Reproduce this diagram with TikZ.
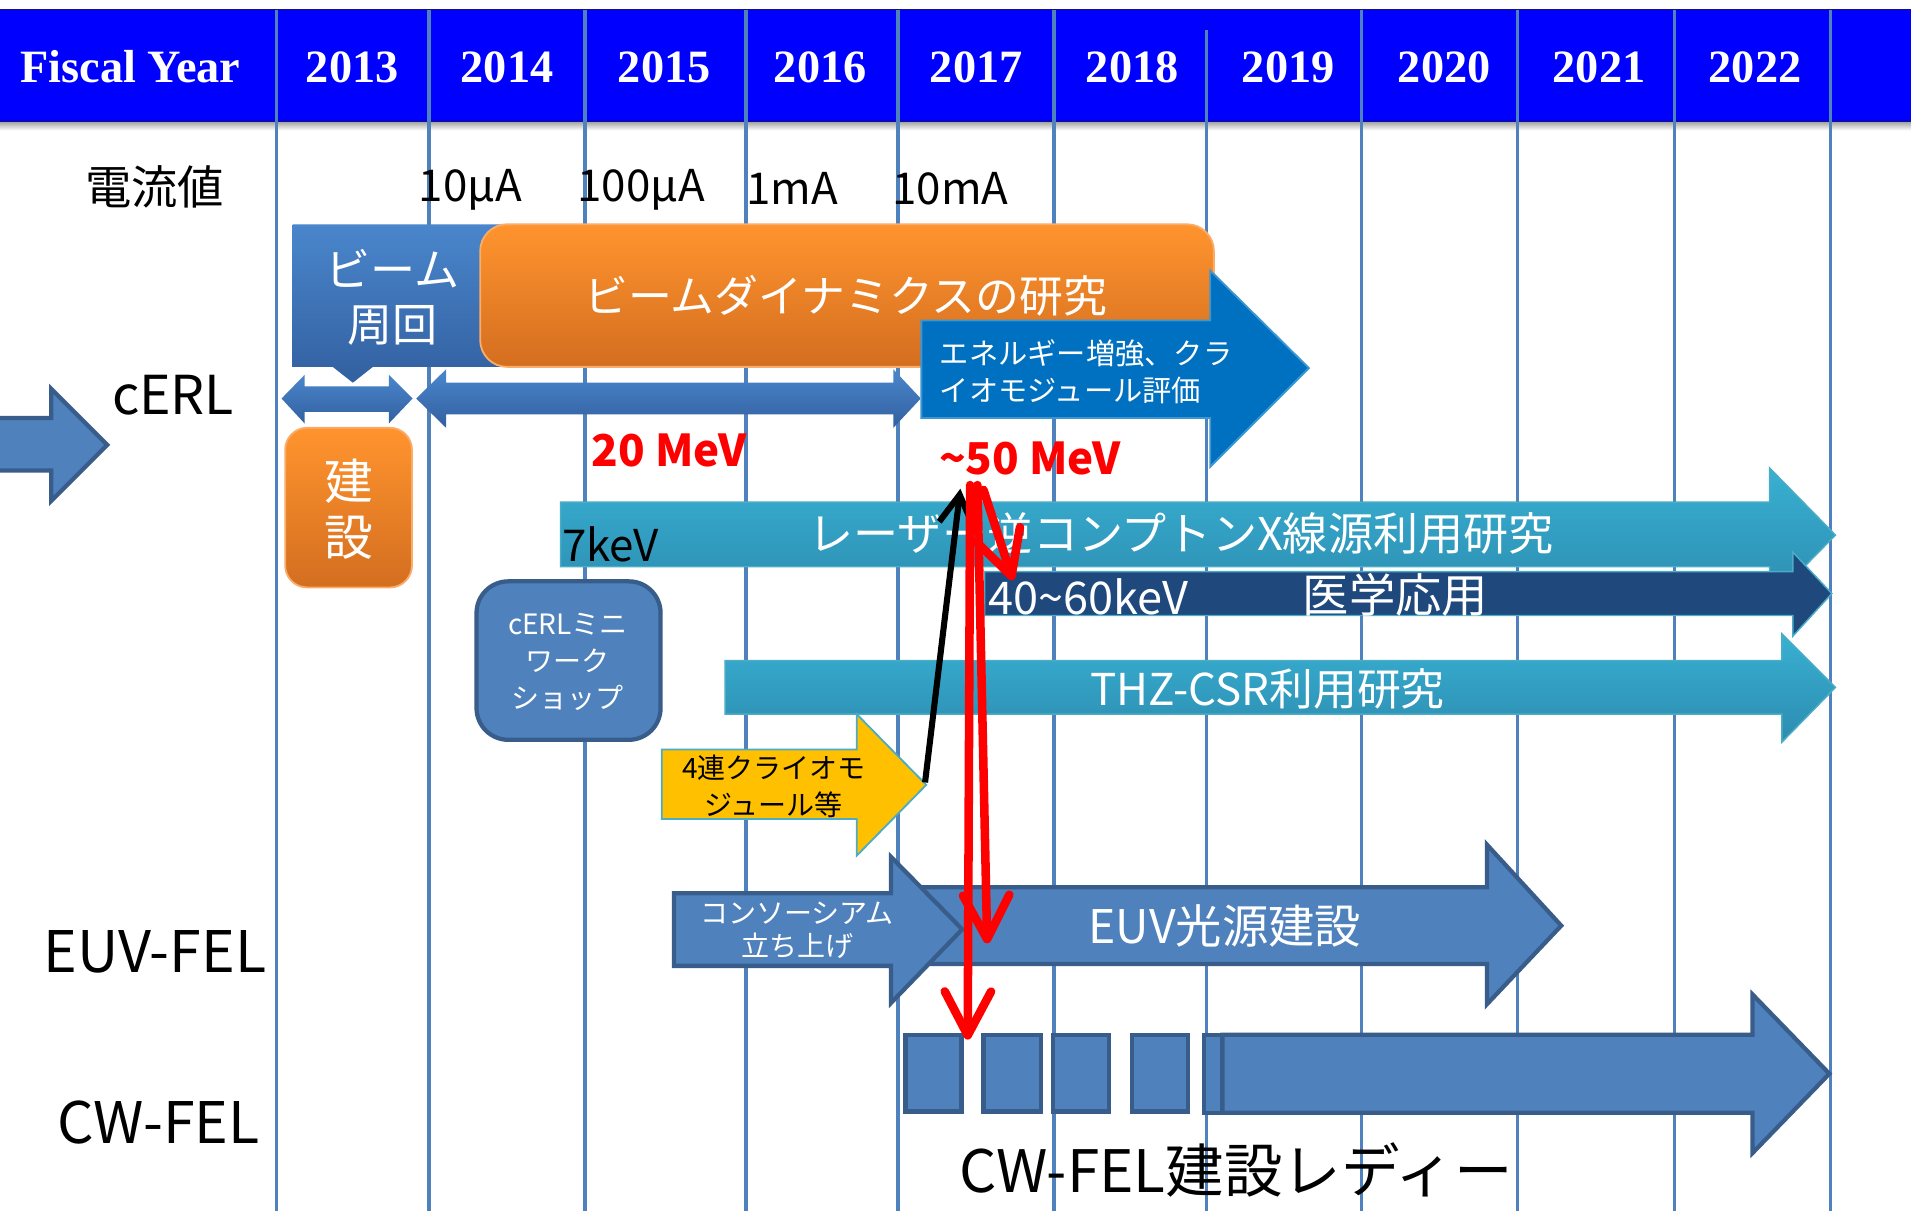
\documentclass[tikz,border=0pt]{standalone}
\usepackage{fontspec}
\setmainfont{Noto Sans CJK JP}
\newfontfamily\tnr{Liberation Serif}
\usetikzlibrary{arrows.meta}
\definecolor{hdrblue}{RGB}{0,0,255}
\definecolor{hdredge}{RGB}{20,20,120}
\definecolor{gridc}{RGB}{79,129,189}
\definecolor{bfill}{RGB}{79,129,189}
\definecolor{bedge}{RGB}{56,93,138}
\definecolor{gtop}{RGB}{74,134,204}
\definecolor{gbot}{RGB}{50,96,160}
\definecolor{otop}{RGB}{255,148,46}
\definecolor{obot}{RGB}{212,110,32}
\definecolor{oedge}{RGB}{250,172,105}
\definecolor{eblue}{RGB}{0,112,192}
\definecolor{eedge}{RGB}{60,150,210}
\definecolor{ttop}{RGB}{56,176,210}
\definecolor{tbot}{RGB}{44,140,176}
\definecolor{tedge}{RGB}{75,172,198}
\definecolor{navy}{RGB}{31,73,125}
\definecolor{yel}{RGB}{255,192,0}
\newcommand\fsz[2]{\fontsize{#1}{#2}\selectfont}
\begin{document}
\begin{tikzpicture}[x=1pt,y=-1pt,
  gl/.style={draw=gridc, line width=3pt},
  bshape/.style={fill=bfill, draw=bedge, line width=3.5pt, line join=miter},
  gshape/.style={top color=gtop, bottom color=gbot},
  oshape/.style={top color=otop, bottom color=obot, draw=oedge, line width=1.5pt},
  tshape/.style={top color=ttop, bottom color=tbot, draw=tedge, line width=1.2pt},
  wt/.style={text=white, inner sep=0pt},
  bt/.style={text=black, inner sep=0pt},
  redarr/.style={draw=red, line width=7pt, line cap=round},
]
\useasboundingbox (0,0) rectangle (1568,994);
\fill[white] (0,0) rectangle (1568,994);

% header band
\shade[top color=black!35, bottom color=white] (0,100) rectangle (1568,107);
\fill[hdrblue] (0,8) rectangle (1568,100);
\draw[hdredge, line width=1pt] (0,8) -- (1568,8) (0,100) -- (1568,100);

% grid lines
\foreach \gx in {227,352,480,612,737,865,1117,1245,1374,1502}
  \draw[gl] (\gx,8) -- (\gx,994);
\draw[gl] (990,25) -- (990,994);

% header texts
\node[wt, font=\tnr\bfseries\fsz{38}{38}] (fy) at (107,55) {Fiscal Year};
\foreach \yr/\cx in {2013/289,2014/416,2015/545,2016/673,2017/801,2018/929,2019/1057,2020/1185,2021/1312,2022/1440}
  \node[wt, font=\tnr\bfseries\fsz{38}{38}] (y\yr) at (\cx,55) {\yr};

% current values
\node[bt, font=\fsz{38}{38}] (cur) at (127,153) {電流値};
\node[bt, font=\fsz{36}{36}] (c1) at (386,156) {10µA};
\node[bt, font=\fsz{36}{36}] (c2) at (526,156) {100µA};
\node[bt, font=\fsz{36}{36}] (c3) at (650,155) {1mA};
\node[bt, font=\fsz{36}{36}] (c4) at (780,155) {10mA};

% left pointer arrow
\draw[bshape] (-10,343) -- (42,343) -- (42,319) -- (88,365) -- (42,411) -- (42,386) -- (-10,386) -- cycle;

% beam circulation callout
\shade[gshape] (240,184) -- (430,184) -- (430,301) -- (306,301) -- (289.5,314) -- (273,301) -- (240,301) -- cycle;
% orange beam dynamics box
\draw[oshape, rounded corners=22pt] (394,184) rectangle (996,301);
% energy upgrade arrow
\draw[fill=eblue, draw=eedge, line width=1.5pt] (756,263) -- (993,263) -- (993,222) -- (1074,302) -- (993,383) -- (993,343) -- (756,343) -- cycle;

% double arrows
\shade[gshape] (231,327) -- (250,307.5) -- (250,317) -- (319,317) -- (319,307.5) -- (338.5,327) -- (319,347.5) -- (319,338) -- (250,338) -- (250,347.5) -- cycle;
\shade[gshape] (341.5,327) -- (366,303) -- (366,314) -- (733,314) -- (733,303) -- (755.5,327) -- (733,351) -- (733,340) -- (366,340) -- (366,351) -- cycle;

% construction box
\draw[oshape, rounded corners=18pt] (234,351) rectangle (338,482);

% laser compton arrow
\draw[tshape] (460,412) -- (1452,412) -- (1452,384) -- (1506,439) -- (1452,494) -- (1452,465) -- (460,465) -- cycle;
% medical arrow
\draw[fill=navy, draw=tedge, line width=1.2pt] (808,469) -- (1471,469) -- (1471,453) -- (1503,487) -- (1471,522) -- (1471,505) -- (808,505) -- cycle;

% cERL mini workshop box
\draw[bshape, rounded corners=26pt] (391,477) rectangle (542,607);

% THz arrow
\draw[tshape] (595,542) -- (1462,542) -- (1462,520) -- (1506,564) -- (1462,609) -- (1462,586) -- (595,586) -- cycle;

% yellow cryomodule arrow
\draw[fill=yel, draw=tedge, line width=1.5pt] (543,615) -- (703,615) -- (703,586) -- (760,644) -- (703,702) -- (703,672) -- (543,672) -- cycle;

% EUV arrow and consortium arrow
\draw[bshape] (756,728) -- (1220,728) -- (1220,693) -- (1281,759.5) -- (1220,824) -- (1220,791) -- (756,791) -- cycle;
\draw[bshape] (553,733) -- (731,733) -- (731,703) -- (789.5,762.5) -- (731,823) -- (731,792.5) -- (553,792.5) -- cycle;

% CW-FEL blocks and arrow
\draw[bshape] (743,849) rectangle (789,912);
\draw[bshape] (807,849) rectangle (854,912);
\draw[bshape] (864,849) rectangle (910,912);
\draw[bshape] (929,849) rectangle (975,912);
\draw[bshape] (988,849) rectangle (1003,913);
\draw[bshape] (1003,849) -- (1438,849) -- (1438,816) -- (1501,881) -- (1438,946) -- (1438,913) -- (1003,913) -- cycle;

% texts
\node[bt, font=\fsz{44}{44}] (cerl) at (142,324) {cERL};
\node[bt, font=\fsz{47}{47}] (euvfel) at (127,781) {EUV-FEL};
\node[bt, font=\fsz{47}{47}] (cwfel) at (130,921) {CW-FEL};

\node[wt, align=center, font=\fsz{37}{45}] (beam) at (322,244) {ビーム\\周回};
\node[wt, font=\fsz{36}{36}] (bd) at (694,243) {ビームダイナミクスの研究};
\node[wt, anchor=west, align=left, font=\fsz{24}{31}] (enr) at (771,305) {エネルギー増強、クラ\\イオモジュール評価};
\node[wt, align=center, font=\fsz{40}{46}] (kensetsu) at (286,418) {建\\設};

\node[text=red, inner sep=0pt, font=\bfseries\fsz{36}{36}] (e20) at (549,370) {20 MeV};
\node[text=red, inner sep=0pt, font=\bfseries\fsz{36}{36}] (e50) at (845,376) {\textasciitilde50 MeV};

\node[bt, anchor=west, font=\fsz{36}{36}] (k7) at (461,447) {7keV};
\node[wt, font=\fsz{37}{37}] (laser) at (969,438) {レーザー逆コンプトンX線源利用研究};
\node[wt, font=\fsz{37}{37}] (k40) at (893,490) {40\textasciitilde60keV};
\node[wt, font=\fsz{38}{38}] (med) at (1145,488) {医学応用};

\node[wt, align=center, font=\fsz{23}{30.5}] (mini) at (466,543) {cERLミニ\\ワーク\\ショップ};
\node[wt, font=\fsz{36}{36}] (thz) at (1040,565) {THZ-CSR利用研究};
\node[bt, align=center, font=\fsz{23}{30}] (cryo) at (635,645) {4連クライオモ\\ジュール等};
\node[wt, align=center, font=\fsz{23}{27}] (cons) at (654,763) {コンソーシアム\\立ち上げ};
\node[wt, font=\fsz{38}{38}] (euv) at (1005,760) {EUV光源建設};
\node[bt, font=\fsz{48}{48}] (cwready) at (1014,960) {CW-FEL建設レディー};

% connectors
\coordinate (bk0) at (759,642);
\coordinate (bk1) at (788,401);
\draw[line width=5pt, -{Straight Barb[length=24pt,width=28pt]}] (bk0) -- (bk1);

\coordinate (ra0) at (796,398);
\coordinate (ra1) at (794,853);
\coordinate (rb0) at (802,398);
\coordinate (rb1) at (810,774);
\coordinate (rc0) at (807,402);
\coordinate (rc1) at (831,476);
\draw[redarr, -{Straight Barb[length=36pt,width=38pt,round]}] (ra0) -- (ra1);
\draw[redarr, -{Straight Barb[length=36pt,width=38pt,round]}] (rb0) -- (rb1);
\draw[redarr, -{Straight Barb[length=36pt,width=38pt,round]}] (rc0) -- (rc1);
\end{tikzpicture}
\end{document}
